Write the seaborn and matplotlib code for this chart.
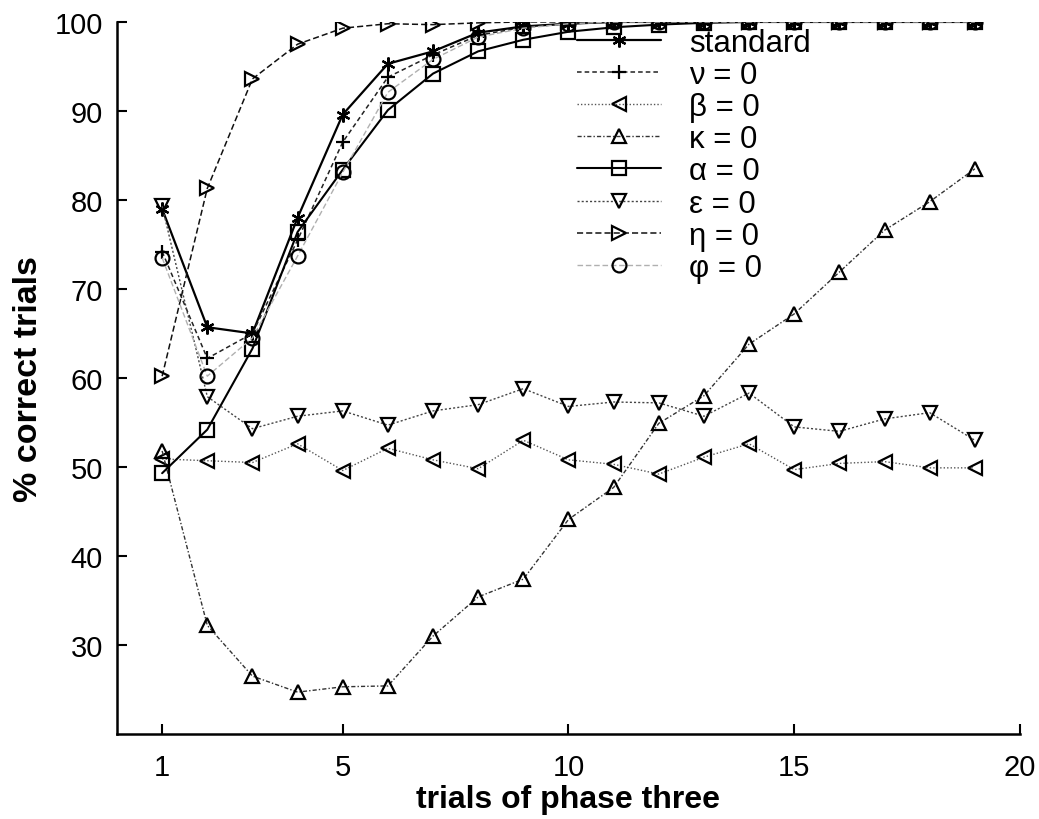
import numpy as np
import pandas as pd
import matplotlib
matplotlib.use("Agg")
import matplotlib.pyplot as plt
import seaborn as sns

trials = list(range(1, 20))

standard = [79.0, 65.7, 65.0, 78.0, 89.6, 95.3, 96.7, 98.8, 99.5, 99.8, 100, 100, 100, 100, 100, 100, 100, 100, 100]
nu0      = [74.2, 62.2, 65.0, 75.5, 86.5, 93.8, 96.3, 98.5, 99.4, 99.8, 100, 100, 100, 100, 100, 100, 100, 100, 100]
beta0    = [50.9, 50.7, 50.5, 52.6, 49.6, 52.1, 50.8, 49.8, 53.0, 50.8, 50.3, 49.2, 51.1, 52.6, 49.7, 50.4, 50.6, 49.9, 49.9]
kappa0   = [51.8, 32.2, 26.5, 24.7, 25.3, 25.4, 31.0, 35.4, 37.4, 44.1, 47.7, 54.9, 58.0, 63.8, 67.2, 71.9, 76.6, 79.8, 83.5]
alpha0   = [49.3, 54.2, 63.3, 76.4, 83.4, 90.1, 94.2, 96.7, 98.0, 98.9, 99.4, 99.7, 99.9, 100, 100, 100, 100, 100, 100]
eps0     = [79.3, 57.9, 54.3, 55.7, 56.3, 54.7, 56.3, 57.0, 58.8, 56.8, 57.3, 57.2, 55.7, 58.3, 54.5, 54.0, 55.4, 56.1, 53.0]
eta0     = [60.2, 81.3, 93.6, 97.5, 99.3, 99.8, 99.7, 99.9, 100, 100, 100, 100, 100, 100, 100, 100, 100, 100, 100]
phi0     = [73.5, 60.2, 64.5, 73.7, 83.1, 92.1, 95.8, 98.3, 99.3, 99.8, 100, 100, 100, 100, 100, 100, 100, 100, 100]

labels = ["standard", "ν = 0", "β = 0", "κ = 0", "α = 0", "ε = 0", "η = 0", "φ = 0"]
series = [standard, nu0, beta0, kappa0, alpha0, eps0, eta0, phi0]

xticks = [1, 5, 10, 15, 20]
yticks = [30, 40, 50, 60, 70, 80, 90, 100]

sns.set_style("ticks")
plt.rcParams['font.family'] = ['Liberation Sans', 'DejaVu Sans']
plt.rcParams['xtick.direction'] = 'in'
plt.rcParams['ytick.direction'] = 'in'
plt.rcParams['text.color'] = 'black'
plt.rcParams['axes.labelcolor'] = 'black'

styles = [
    dict(marker=(6, 2, 0), ls='-', color='black', lw=1.6),
    dict(marker='+', ls=(0, (3, 2)), color='#222222', lw=1.1),
    dict(marker='<', ls=(0, (1, 1.5)), color='#555555', lw=1.0),
    dict(marker='^', ls=(0, (3, 1.5, 1, 1.5)), color='#333333', lw=1.0),
    dict(marker='s', ls='-', color='black', lw=1.5),
    dict(marker='v', ls=(0, (1.5, 1.5)), color='#444444', lw=1.0),
    dict(marker='>', ls=(0, (4, 2)), color='#111111', lw=1.1),
    dict(marker='o', ls=(0, (4, 2)), color='#b0b0b0', lw=1.0),
]

fig = plt.figure(figsize=(10.39, 8.2), dpi=100)
ax = fig.add_axes([0.1126, 0.1037, 0.8691, 0.8683])

for lab, vals, st in zip(labels, series, styles):
    df = pd.DataFrame({"trial": trials, "pct": vals})
    sns.lineplot(data=df, x="trial", y="pct", ax=ax, label=lab,
                 color=st['color'], linestyle=st['ls'], linewidth=st['lw'],
                 marker=st['marker'], markersize=10, markerfacecolor='none',
                 markeredgecolor='black', markeredgewidth=1.6)

ax.set_xlim(0, 20)
ax.set_ylim(20, 100)
ax.set_xticks(xticks)
ax.set_yticks(yticks)
ax.tick_params(labelsize=21, length=7, width=1.5, colors='black')
ax.tick_params(axis='y', pad=10)
ax.tick_params(axis='x', pad=14)
for s in ['top', 'right']:
    ax.spines[s].set_visible(False)
for s in ['left', 'bottom']:
    ax.spines[s].set_linewidth(1.8)
    ax.spines[s].set_color('black')

ax.set_xlabel("trials of phase three", fontsize=23, fontweight='bold', labelpad=2)
ax.set_ylabel("% correct trials", fontsize=24.5, fontweight='bold', labelpad=8)

leg = ax.legend(loc='upper left', bbox_to_anchor=(0.509, 0.992), frameon=False,
                fontsize=22.5, handlelength=2.7, handletextpad=0.9,
                labelspacing=0.07, borderpad=0, borderaxespad=0)

fig.savefig("out.png", dpi=100)
